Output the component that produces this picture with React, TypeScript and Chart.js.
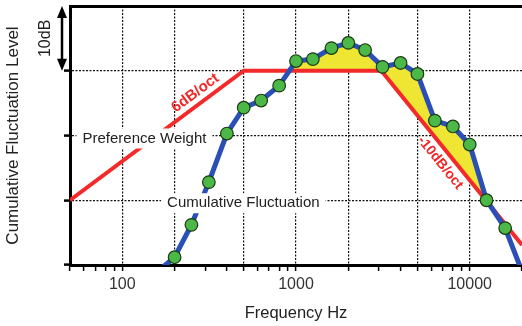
import React, { useEffect, useRef } from 'react';
import { Chart, registerables } from 'chart.js';

Chart.register(...registerables);

// ---- data ----
const fluctFreq = [160, 200, 250, 315, 400, 500, 630, 800, 1000, 1250, 1600, 2000, 2500, 3150, 4000, 5000, 6300, 8000, 10000, 12500, 16000, 20000];
const fluctLevel = [-1, 1.2, 6.2, 12.8, 20.3, 24.3, 25.4, 27.7, 31.5, 31.8, 33.5, 34.3, 33.2, 30.6, 31.2, 29.5, 22.3, 21.4, 18.6, 10.0, 5.7, -1];
const weightFreq = [50, 500, 3100, 20000];
const weightLevel = [10, 30, 30, 3.1];
const xTickValues = [50, 60, 70, 80, 90, 100, 200, 300, 400, 500, 600, 700, 800, 900, 1000, 2000, 3000, 4000, 5000, 6000, 7000, 8000, 9000, 10000, 20000];
const xLabelValues = [100, 1000, 10000];
const xGridValues = [100, 200, 500, 1000, 2000, 5000, 10000];
const yTickValues = [0, 10, 20, 30, 40];
const yGridValues = [10, 20, 30];

const FONT = '"Liberation Sans", Arial, Helvetica, sans-serif';
const TRANSPARENT = 'rgba(0,0,0,0)';

const annotations = {
  id: 'annotations',
  afterDatasetsDraw(chart: any) {
    const { ctx, scales } = chart;
    const x = scales.x;
    const y = scales.y;
    ctx.save();

    // labels with white background on gridlines
    const boxLabel = (text: string, fLeft: number, level: number) => {
      ctx.font = `15px ${FONT}`;
      const px = x.getPixelForValue(fLeft);
      const py = y.getPixelForValue(level) + 3;
      const w = ctx.measureText(text).width;
      ctx.fillStyle = '#fff';
      ctx.fillRect(px - 6, py - 10, w + 12, 20);
      ctx.fillStyle = '#222';
      ctx.textAlign = 'left';
      ctx.textBaseline = 'middle';
      ctx.fillText(text, px, py);
    };
    boxLabel('Preference Weight', 59, 20);
    boxLabel('Cumulative Fluctuation', 181, 10);

    // slope labels along the red line
    const pts = chart.getDatasetMeta(1).data;
    const along = (text: string, a: any, b: any, t: number, offset: number, size: number) => {
      const dx = b.x - a.x;
      const dy = b.y - a.y;
      const len = Math.hypot(dx, dy);
      const ux = dx / len;
      const uy = dy / len;
      const nx = uy;
      const ny = -ux;
      const cx = a.x + dx * t + nx * offset;
      const cy = a.y + dy * t + ny * offset;
      ctx.save();
      ctx.translate(cx, cy);
      ctx.rotate(Math.atan2(dy, dx));
      ctx.font = `bold ${size}px ${FONT}`;
      ctx.fillStyle = '#f02828';
      ctx.textAlign = 'center';
      ctx.textBaseline = 'middle';
      ctx.fillText(text, 0, 0);
      ctx.restore();
    };
    along('6dB/oct', pts[0], pts[1], 0.76, 11, 15);
    along('-10dB/oct', pts[2], pts[3], 0.485, -12, 14);

    // 10 dB arrow
    const ax = 62;
    const yTop = y.getPixelForValue(40);
    const yBot = y.getPixelForValue(30);
    ctx.strokeStyle = '#000';
    ctx.fillStyle = '#000';
    ctx.lineWidth = 2.5;
    ctx.beginPath();
    ctx.moveTo(ax, yTop + 8);
    ctx.lineTo(ax, yBot - 8);
    ctx.stroke();
    ctx.beginPath();
    ctx.moveTo(ax, yTop);
    ctx.lineTo(ax - 5, yTop + 12);
    ctx.lineTo(ax + 5, yTop + 12);
    ctx.closePath();
    ctx.fill();
    ctx.beginPath();
    ctx.moveTo(ax, yBot);
    ctx.lineTo(ax - 5, yBot - 12);
    ctx.lineTo(ax + 5, yBot - 12);
    ctx.closePath();
    ctx.fill();

    ctx.save();
    ctx.translate(46, (yTop + yBot) / 2);
    ctx.rotate(-Math.PI / 2);
    ctx.font = `16px ${FONT}`;
    ctx.fillStyle = '#222';
    ctx.textAlign = 'center';
    ctx.textBaseline = 'middle';
    ctx.fillText('10dB', 0, 0);
    ctx.restore();

    ctx.restore();
  },
};

export default function App() {
  const ref = useRef<HTMLCanvasElement | null>(null);

  useEffect(() => {
    if (!ref.current) return;
    const chart = new Chart(ref.current, {
      type: 'line',
      data: {
        datasets: [
          {
            label: 'Cumulative Fluctuation',
            data: fluctFreq.map((f, i) => ({ x: f, y: fluctLevel[i] })),
            borderColor: '#2a4fb6',
            borderWidth: 5,
            tension: 0,
            clip: 0,
            pointRadius: (c: any) => (c.dataIndex === 0 || c.dataIndex === fluctFreq.length - 1 ? 0 : 6.3),
            pointBackgroundColor: '#4cb848',
            pointBorderColor: '#1b3a12',
            pointBorderWidth: 1.2,
            fill: { target: 1, above: '#efe633', below: TRANSPARENT },
          },
          {
            label: 'Preference Weight',
            data: weightFreq.map((f, i) => ({ x: f, y: weightLevel[i] })),
            borderColor: '#f42a2a',
            borderWidth: 4,
            tension: 0,
            clip: 0,
            pointRadius: 0,
            fill: false,
          },
        ],
      },
      options: {
        responsive: false,
        devicePixelRatio: 1,
        animation: false,
        layout: { padding: { top: 6, left: 0, right: 0, bottom: 0 } },
        plugins: {
          legend: { display: false },
          tooltip: { enabled: false },
          filler: { drawTime: 'beforeDatasetsDraw' },
        },
        scales: {
          x: {
            type: 'logarithmic',
            position: 'bottom',
            min: 50,
            max: 20000,
            afterBuildTicks: (s: any) => {
              s.ticks = xTickValues.map((v) => ({ value: v }));
            },
            afterFit: (s: any) => {
              s.height = 61;
            },
            ticks: {
              autoSkip: false,
              maxRotation: 0,
              minRotation: 0,
              padding: 4,
              color: '#333',
              font: { family: FONT, size: 16 },
              callback: (v: any) => (xLabelValues.includes(Number(v)) ? String(v) : ''),
            },
            grid: {
              color: (c: any) => (c.tick && xGridValues.includes(c.tick.value) ? '#111' : TRANSPARENT),
              lineWidth: 1.2,
              tickColor: '#000',
              tickLength: 6,
              tickWidth: 1.5,
            },
            border: { display: true, color: '#000', width: 3, dash: [2, 1.5] },
            title: {
              display: true,
              text: 'Frequency Hz',
              color: '#222',
              font: { family: FONT, size: 16.5 },
              padding: { top: 0, bottom: 3 },
            },
          },
          x2: {
            type: 'logarithmic',
            position: 'top',
            min: 50,
            max: 20000,
            afterFit: (s: any) => {
              s.height = 0;
            },
            ticks: { display: false },
            grid: { display: false, drawTicks: false },
            border: { display: true, color: '#000', width: 3 },
          },
          y: {
            type: 'linear',
            min: 0,
            max: 40,
            afterBuildTicks: (s: any) => {
              s.ticks = yTickValues.map((v) => ({ value: v }));
            },
            afterFit: (s: any) => {
              s.width = 70;
            },
            ticks: { display: false },
            grid: {
              color: (c: any) => (c.tick && yGridValues.includes(c.tick.value) ? '#111' : TRANSPARENT),
              lineWidth: 1.2,
              tickColor: (c: any) => (c.tick && c.tick.value === 40 ? TRANSPARENT : '#000'),
              tickLength: 6,
              tickWidth: 2.5,
            },
            border: { display: true, color: '#000', width: 3, dash: [2, 1.5] },
            title: {
              display: true,
              text: 'Cumulative Fluctuation Level',
              color: '#222',
              font: { family: FONT, size: 17 },
              padding: { top: 3, bottom: 0 },
            },
          },
        },
      } as any,
      plugins: [annotations],
    });
    return () => chart.destroy();
  }, []);

  return (
    <div
      style={{
        position: 'fixed',
        left: 0,
        top: 0,
        width: 522,
        height: 326,
        overflow: 'hidden',
        background: '#fff',
      }}
    >
      <canvas ref={ref} width={526} height={326} style={{ display: 'block', width: 526, height: 326 }} />
    </div>
  );
}
